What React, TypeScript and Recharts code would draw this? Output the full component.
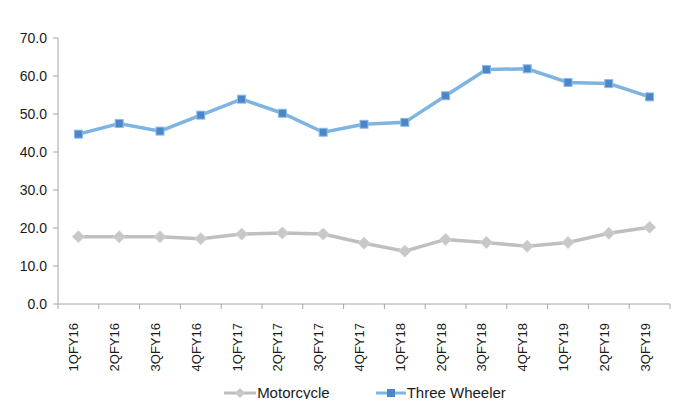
import React from "react";
import { LineChart, Line, XAxis, YAxis, Legend } from "recharts";

const quarters = ["1QFY16","2QFY16","3QFY16","4QFY16","1QFY17","2QFY17","3QFY17","4QFY17","1QFY18","2QFY18","3QFY18","4QFY18","1QFY19","2QFY19","3QFY19"];
const motorcycle = [17.7,17.7,17.7,17.2,18.4,18.7,18.4,16.0,13.9,17.0,16.2,15.2,16.2,18.6,20.2];
const threeWheeler = [44.7,47.5,45.5,49.7,53.9,50.2,45.2,47.3,47.8,54.8,61.7,61.9,58.3,58.0,54.5];
const yTicks = [0,10,20,30,40,50,60,70];

const data = quarters.map((q, i) => ({ pos: i + 0.5, q, motorcycle: motorcycle[i], threeWheeler: threeWheeler[i] }));
const edgeTicks = quarters.map((_, i) => i).concat([quarters.length]);

const FONT = "'Liberation Sans', Arial, sans-serif";
const W = 700, H = 407;
const LEFT = 58, RIGHT = 30;
const band = (W - LEFT - RIGHT) / quarters.length;

const XTick = (props: any) => {
  const { x, y, payload } = props;
  const i = payload.value;
  if (i >= quarters.length) return <g />;
  const cx = x + band / 2;
  const ty = y + 12;
  return (
    <text x={cx} y={ty} transform={`rotate(-90, ${cx}, ${ty})`} textAnchor="end" fontSize={13} fontFamily={FONT} fill="#1a1a1a">
      {quarters[i]}
    </text>
  );
};

const Square = (props: any) => {
  const { cx, cy } = props;
  if (cx == null || cy == null) return <g />;
  return <rect x={cx - 4} y={cy - 4} width={8} height={8} fill="#4a86c8" stroke="#8dbbe6" strokeWidth={1} />;
};
const Diamond = (props: any) => {
  const { cx, cy } = props;
  if (cx == null || cy == null) return <g />;
  return <polygon points={`${cx},${cy - 6} ${cx + 6},${cy} ${cx},${cy + 6} ${cx - 6},${cy}`} fill="#c8c8c8" stroke="#d4d4d4" strokeWidth={1} />;
};

const LegendContent = () => (
  <div style={{ display: "flex", justifyContent: "center", alignItems: "center", fontFamily: FONT, fontSize: 15, color: "#1a1a1a", paddingLeft: 60, paddingTop: 7 }}>
    <svg width={32} height={12}>
      <line x1={0} y1={6} x2={32} y2={6} stroke="#bfbfbf" strokeWidth={3} />
      <polygon points="16,1 21,6 16,11 11,6" fill="#c8c8c8" />
    </svg>
    <span style={{ marginLeft: 1, marginRight: 46 }}>Motorcycle</span>
    <svg width={30} height={12}>
      <line x1={0} y1={6} x2={30} y2={6} stroke="#7eb4e2" strokeWidth={3} />
      <rect x={11} y={2} width={8} height={8} fill="#4a86c8" />
    </svg>
    <span style={{ marginLeft: 1 }}>Three Wheeler</span>
  </div>
);

export default function App() {
  return (
    <div style={{ margin: -8, width: W, height: H, position: "relative", background: "#fff", overflow: "hidden" }}>
      <div style={{ position: "absolute", left: 0, top: 6, width: W, borderTop: "2px solid #c4c4c4" }} />
      <LineChart width={W} height={H} data={data} margin={{ top: 38, right: RIGHT, left: 0, bottom: 0 }}>
        <XAxis
          dataKey="pos"
          type="number"
          domain={[0, quarters.length]}
          ticks={edgeTicks}
          interval={0}
          tick={XTick}
          tickLine={{ stroke: "#a6a6a6" }}
          axisLine={{ stroke: "#a6a6a6" }}
          tickSize={5}
          height={73}
        />
        <YAxis
          width={LEFT}
          domain={[0, 70]}
          ticks={yTicks}
          interval={0}
          tickFormatter={(v: number) => v.toFixed(1)}
          tick={{ fontSize: 14, fontFamily: FONT, fill: "#1a1a1a" }}
          tickLine={{ stroke: "#a6a6a6" }}
          axisLine={{ stroke: "#a6a6a6" }}
          tickSize={5}
          tickMargin={6}
        />
        <Legend verticalAlign="bottom" height={30} content={LegendContent} />
        <Line dataKey="motorcycle" name="Motorcycle" stroke="#bfbfbf" strokeWidth={3.5} dot={Diamond} activeDot={false} isAnimationActive={false} />
        <Line dataKey="threeWheeler" name="Three Wheeler" stroke="#7eb4e2" strokeWidth={3.5} dot={Square} activeDot={false} isAnimationActive={false} />
      </LineChart>
    </div>
  );
}
